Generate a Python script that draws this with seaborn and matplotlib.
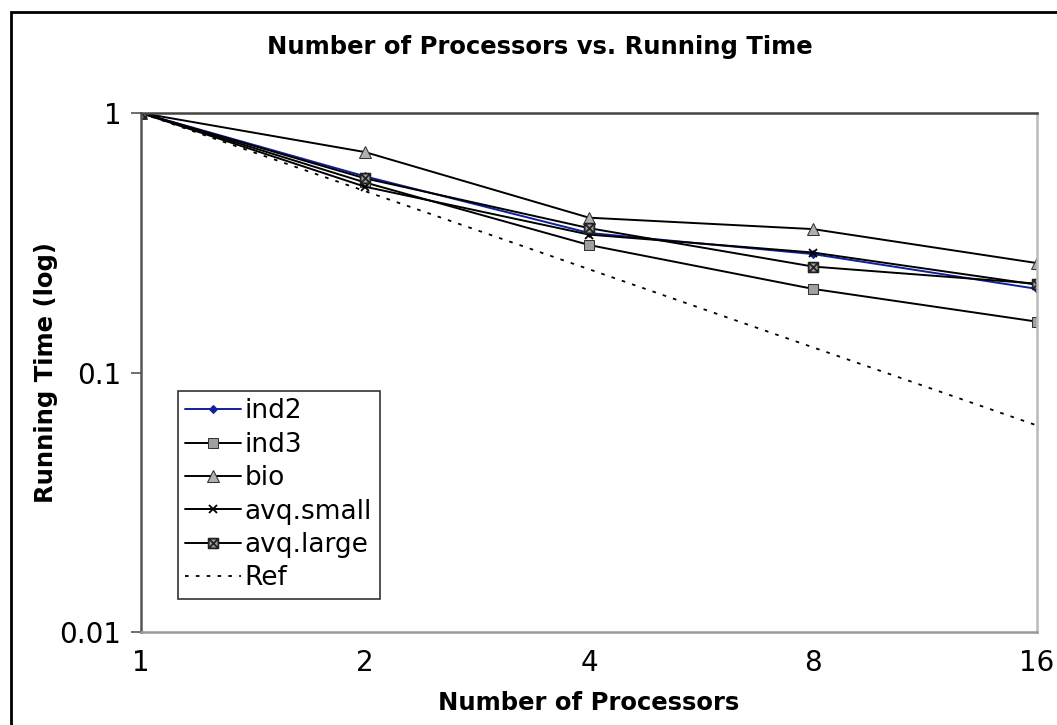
import numpy as np
import pandas as pd
import matplotlib
matplotlib.use("Agg")
import matplotlib.pyplot as plt
from matplotlib.path import Path
from matplotlib.patches import Rectangle
import seaborn as sns

procs = [1, 2, 4, 8, 16]
ind2 = [1.0, 0.57, 0.345, 0.286, 0.21]
ind3 = [1.0, 0.54, 0.31, 0.21, 0.157]
bio = [1.0, 0.707, 0.395, 0.357, 0.264]
avq_small = [1.0, 0.52, 0.34, 0.29, 0.218]
avq_large = [1.0, 0.56, 0.36, 0.256, 0.22]
ref = [1.0, 0.5, 0.25, 0.125, 0.0625]
xtick_labels = ["1", "2", "4", "8", "16"]
ytick_vals = [0.01, 0.1, 1]
ytick_labels = ["0.01", "0.1", "1"]

sns.set_theme(style="white")
plt.rcParams["font.family"] = ["DejaVu Sans"]
plt.rcParams["text.color"] = "black"
plt.rcParams["axes.labelcolor"] = "black"
plt.rcParams["xtick.color"] = "black"
plt.rcParams["ytick.color"] = "black"

fig = plt.figure(figsize=(10.57, 7.25), dpi=100)
ax = fig.add_axes([141/1057, 1 - 632/725, (1037-141)/1057, (632-113)/725])

# custom marker: square with an x
sq_x = Path([(-1, -1), (1, -1), (1, 1), (-1, 1), (-1, -1),
             (-1, -1), (1, 1), (-1, 1), (1, -1)],
            [Path.MOVETO, Path.LINETO, Path.LINETO, Path.LINETO, Path.CLOSEPOLY,
             Path.MOVETO, Path.LINETO, Path.MOVETO, Path.LINETO])

navy = "#10209a"
series = [
    ("ind2", ind2, dict(color=navy, marker="D", markersize=4.5, markerfacecolor=navy, markeredgecolor=navy)),
    ("ind3", ind3, dict(color="black", marker="s", markersize=7, markerfacecolor="#a0a0a0", markeredgecolor="#333333")),
    ("bio", bio, dict(color="black", marker="^", markersize=8, markerfacecolor="#b0b0b0", markeredgecolor="#333333")),
    ("avq.small", avq_small, dict(color="black", marker="x", markersize=6, markeredgecolor="black", markeredgewidth=1.3)),
    ("avq.large", avq_large, dict(color="black", marker=sq_x, markersize=7, markerfacecolor="#a0a0a0", markeredgecolor="#222222", markeredgewidth=1.3)),
]
for name, vals, kw in series:
    sns.lineplot(x=procs, y=vals, ax=ax, label=name, linewidth=1.4, **kw)
sns.lineplot(x=procs, y=ref, ax=ax, label="Ref", color="black", linewidth=1.3,
             linestyle=(0, (2, 4)))

ax.set_xscale("log", base=2)
ax.set_yscale("log")
ax.set_xlim(1, 16)
ax.set_ylim(0.01, 1)
ax.set_xticks(procs)
ax.set_xticklabels(xtick_labels)
ax.set_yticks(ytick_vals)
ax.set_yticklabels(ytick_labels)
ax.minorticks_off()
ax.tick_params(axis="y", which="major", direction="out", length=7, width=1.2,
               color="#555555", left=True, labelsize=20, pad=7, labelcolor="black")
ax.tick_params(axis="x", which="major", length=0, labelsize=20, pad=12, labelcolor="black")

ax.spines["left"].set_color("#555555")
ax.spines["left"].set_linewidth(1.8)
ax.spines["top"].set_color("#444444")
ax.spines["top"].set_linewidth(1.8)
ax.spines["right"].set_color("#bbbbbb")
ax.spines["right"].set_linewidth(1.8)
ax.spines["bottom"].set_color("#999999")
ax.spines["bottom"].set_linewidth(1.8)
ax.grid(False)

ax.set_xlabel("Number of Processors", fontsize=17.5, fontweight="bold", labelpad=10, color="black")
ax.set_ylabel("Running Time (log)", fontsize=17.5, fontweight="bold", labelpad=1, color="black")
fig.text(540/1057, 1 - 47/725, "Number of Processors vs. Running Time",
         fontsize=17.5, fontweight="bold", ha="center", va="center", color="black")

leg = ax.legend(loc="upper left", bbox_to_anchor=((178-141)/896, (632-391)/519),
                fontsize=19, frameon=True, fancybox=False, handlelength=2.1,
                handletextpad=0.15, borderpad=0.28, labelspacing=0.28,
                borderaxespad=0, labelcolor="black")
leg.get_frame().set_edgecolor("black")
leg.get_frame().set_linewidth(1.2)

fig.patches.append(Rectangle((11/1057, -0.1), 1.2, 1 - 12/725 + 0.1,
                             transform=fig.transFigure, fill=False,
                             edgecolor="black", linewidth=2, zorder=10))

fig.savefig("out.png", dpi=100)
